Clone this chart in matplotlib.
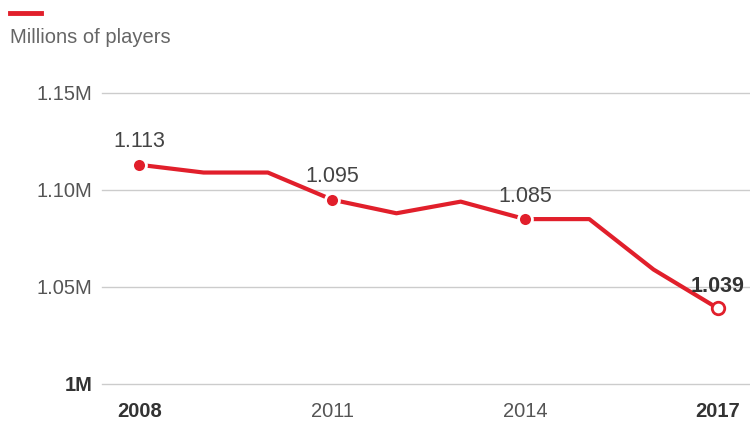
import matplotlib.pyplot as plt

# players per year, millions
years = [2008, 2009, 2010, 2011, 2012, 2013, 2014, 2015, 2016, 2017]
players = [1.113, 1.109, 1.109, 1.095, 1.088, 1.094, 1.085, 1.085, 1.059, 1.039]

# points that get a dot and a label
marked_years = [2008, 2011, 2014]
marked_labels = ['1.113', '1.095', '1.085']
last_label = '1.039'

ytick_vals = [1.0, 1.05, 1.10, 1.15]
ytick_labels = ['1M', '1.05M', '1.10M', '1.15M']
xtick_vals = [2008, 2011, 2014, 2017]
xtick_labels = ['2008', '2011', '2014', '2017']

red = '#e11f2b'
grey = '#555555'

plt.rcParams['font.family'] = ['Liberation Sans', 'DejaVu Sans']

fig = plt.figure(figsize=(7.5, 4.26), dpi=100)
ax = fig.add_axes([0.136, 0.0986, 0.864, 0.6831])

# gridlines
for v in ytick_vals:
    ax.axhline(v, color='#cccccc', lw=1, zorder=1, clip_on=False)

ax.plot(years, players, color=red, lw=3, solid_joinstyle='round', zorder=3, clip_on=False)

for yr, lab in zip(marked_years, marked_labels):
    v = players[years.index(yr)]
    ax.plot([yr], [v], 'o', ms=10, mfc=red, mec='white', mew=2, zorder=4, clip_on=False)
    ax.annotate(lab, (yr, v), xytext=(0, 9), textcoords='offset points',
                ha='center', va='bottom', fontsize=15.5, color='#444444')

ax.plot([years[-1]], [players[-1]], 'o', ms=9, mfc='white', mec=red, mew=2, zorder=4, clip_on=False)
ax.annotate(last_label, (years[-1], players[-1]), xytext=(0, 8), textcoords='offset points',
            ha='center', va='bottom', fontsize=15.5, color='#333333', fontweight='bold', zorder=5)

ax.set_xlim(2007.42, 2017.5)
ax.set_ylim(1.0, 1.15)
ax.set_yticks(ytick_vals)
ax.set_yticklabels(ytick_labels)
ax.set_xticks(xtick_vals)
ax.set_xticklabels(xtick_labels)

for lab in ax.get_yticklabels():
    lab.set_color(grey)
    lab.set_fontsize(14.5)
ax.get_yticklabels()[0].set_fontweight('bold')
ax.get_yticklabels()[0].set_color('#333333')

for i, lab in enumerate(ax.get_xticklabels()):
    lab.set_fontsize(14.5)
    if i in (0, len(xtick_labels) - 1):
        lab.set_fontweight('bold')
        lab.set_color('#333333')
    else:
        lab.set_color(grey)

ax.tick_params(axis='both', length=0)
ax.tick_params(axis='y', pad=7)
ax.tick_params(axis='x', pad=13)
for s in ax.spines.values():
    s.set_visible(False)

# legend key
fig.add_artist(plt.Line2D([0.013, 0.055], [0.969, 0.969], color=red, lw=3.5))
fig.text(0.013, 0.913, 'Millions of players', fontsize=14.5, color='#666666', va='center')

fig.savefig('out.png', dpi=100)
